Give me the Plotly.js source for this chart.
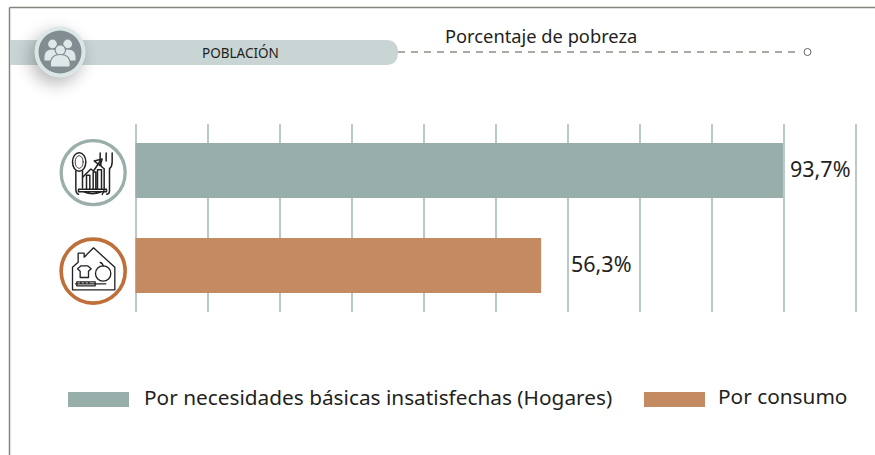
<!DOCTYPE html>
<html><head><meta charset="utf-8">
<script src="https://cdn.plot.ly/plotly-3.0.1.min.js"></script>
<style>html,body{margin:0;padding:0;background:#fff;overflow:hidden}#c{width:875px;height:455px}</style>
</head><body><div id="c"></div>
<script>
const seriesNames = ['Por necesidades básicas insatisfechas (Hogares)', 'Por consumo'];
const categories = ['Por necesidades básicas insatisfechas', 'Por consumo'];
const povertyValues = [93.7, 56.3];
const valueLabels = ['93,7%', '56,3%'];
const barColors = ['#98aeaa', '#c48b63'];
const headerLabel = 'POBLACIÓN';
const chartTitle = 'Porcentaje de pobreza';
const FONT = '"Noto Sans", "Open Sans", sans-serif';
const W = 875, H = 455;
const px = v => v / W, py = v => 1 - v / H;
const svgUri = s => 'data:image/svg+xml;charset=utf-8,' + encodeURIComponent(s);

const populationBadge = `<svg xmlns="http://www.w3.org/2000/svg" width="120" height="120" viewBox="0 0 120 120">
<defs><filter id="b" x="-60%" y="-60%" width="220%" height="220%"><feGaussianBlur stdDeviation="9"/></filter></defs>
<circle cx="56" cy="66" r="25" fill="#000" opacity=".3" filter="url(#b)"/>
<circle cx="60" cy="60" r="25.5" fill="#dbe7e6"/><circle cx="60" cy="60" r="21.5" fill="#828d92"/>
<g fill="#dfe8e8" stroke="#828d92" stroke-width="1.2">
<circle cx="52.5" cy="52" r="5"/><circle cx="67.7" cy="52" r="5"/>
<path d="M44 69c-1-8 2-12 8-12s9 4 9 12z"/><path d="M59 69c0-8 3-12 9-12s9 4 8 12z"/>
<circle cx="60.3" cy="58" r="5.2"/><path d="M50.5 75c-1-9 3-12.500 9.800-12.500s10.800 3.500 9.700 12.500z"/></g></svg>`;

const foodIcon = `<svg xmlns="http://www.w3.org/2000/svg" width="70" height="70" viewBox="50 50 210 210">
<circle cx="157" cy="157" r="96" fill="#fff" stroke="#9aafab" stroke-width="10"/>
<g fill="none" stroke="#222" stroke-width="4.500" stroke-linejoin="round" stroke-linecap="round">
<ellipse cx="115" cy="125" rx="20" ry="28"/><ellipse cx="115" cy="125" rx="12" ry="19" stroke-width="2.500"/>
<path d="M105 152V205q0 14 8 17M125 152V203"/>
<path d="M178 98V125q0 14 12 20V205q0 12-6 17M196 98V122M214 98V125q0 14-8 20V212q0 8-8 10"/>
<path d="M137 205V165H147V205M157 205V155H165V205M170 205V148H182V205"/>
<path d="M113 207H197V214H113ZM130 215q25 10 50 0"/>
<path d="M126 170L150 146L158 152L178 122"/><path d="M160 122L184 116L178 136Z"/></g></svg>`;

const homeIcon = `<svg xmlns="http://www.w3.org/2000/svg" width="70" height="70" viewBox="50 345 210 210">
<circle cx="157" cy="452" r="96" fill="#fff" stroke="#bf6f3a" stroke-width="11"/>
<g fill="none" stroke="#222" stroke-width="4" stroke-linejoin="round" stroke-linecap="round">
<path d="M95 508V440L112 425V398H130V410L158 382L222 440V508Z"/>
<path d="M110 445L121 436H140L151 445L143 452V471H118V452Z"/>
<circle cx="187" cy="459" r="23"/><path d="M178 426Q186 428 187 437"/>
<path d="M104 490H195M108 484H163V496H108ZM120 484V490M132 484V490M144 484V490"/></g></svg>`;

const traces = [
  {type:'bar', orientation:'h', name:seriesNames[0], x:[povertyValues[0]], y:[categories[0]], xaxis:'x2', yaxis:'y',
   width:0.579, marker:{color:barColors[0]}, hoverinfo:'skip', showlegend:false},
  {type:'bar', orientation:'h', name:seriesNames[1], x:[povertyValues[1]], y:[categories[1]], xaxis:'x', yaxis:'y',
   width:0.579, marker:{color:barColors[1]}, hoverinfo:'skip', showlegend:false}
];
const textAnn = (text, x, y, size, anchor, extra) => Object.assign({text, x:px(x), y:py(y), xref:'paper', yref:'paper',
  xanchor:anchor, yanchor:'middle', showarrow:false, font:{family:FONT, size, color:'#231f20'}}, extra||{});
const rect = (x0,y0,x1,y1,color) => ({type:'rect', xref:'paper', yref:'paper', x0:px(x0), x1:px(x1), y0:py(y0), y1:py(y1), fillcolor:color, line:{width:0}, layer:'below'});
const line = (x0,y0,x1,y1,color,width,dash) => ({type:'line', xref:'paper', yref:'paper', x0:px(x0), x1:px(x1), y0:py(y0), y1:py(y1), line:{color,width,dash:dash||'solid'}, layer:'below'});

const pillPath = ['M',px(10),py(40),'H',px(386),'Q',px(398),py(40),px(398),py(52.5),'Q',px(398),py(65),px(386),py(65),'H',px(10),'Z'].join(' ');

const layout = {
  width:W, height:H, margin:{l:0,r:0,t:0,b:0}, paper_bgcolor:'#fff', plot_bgcolor:'rgba(0,0,0,0)', showlegend:false,
  xaxis:{domain:[px(128.3),px(863.2)], range:[-1,101], dtick:10, tick0:0, showgrid:true, gridcolor:'#b9c9c7', gridwidth:2,
    zeroline:false, showticklabels:false, ticks:'', showline:false, anchor:'y', fixedrange:true},
  xaxis2:{domain:[px(128.3),px(863.2)], range:[-1.042,105.31], overlaying:'x', visible:false, anchor:'y', fixedrange:true},
  yaxis:{domain:[py(312),py(124)], type:'category', categoryorder:'array', categoryarray:categories, range:[1.49,-0.49],
    showgrid:false, zeroline:false, showticklabels:false, ticks:'', showline:false, fixedrange:true},
  shapes:[
    line(9.5,7.500,875,7.500,'#85857b',1.5), line(9.500,7.500,9.500,455,'#85857b',1.5),
    {type:'path', xref:'paper', yref:'paper', path:pillPath, fillcolor:'#c9d5d5', line:{width:0}, layer:'below'},
    line(398,52,800,52,'#8f8f87',1.5,'7px,6px'),
    {type:'circle', xref:'paper', yref:'paper', x0:px(804),x1:px(811),y0:py(48.500),y1:py(55.500), fillcolor:'#fff', line:{color:'#666',width:1}},
    rect(68,392,129,407,barColors[0]), rect(644,392,705,407,barColors[1])
  ],
  annotations:[
    textAnn(headerLabel,240,53,13.500,'center'),
    textAnn(chartTitle,541,36,18.300,'center'),
    {text:valueLabels[0], x:povertyValues[0], y:categories[0], xref:'x2', yref:'y', xanchor:'left', yanchor:'middle', xshift:5, yshift:2, showarrow:false, font:{family:FONT,size:21.5,color:'#231f20'}},
    {text:valueLabels[1], x:povertyValues[1], y:categories[1], xref:'x', yref:'y', xanchor:'left', yanchor:'middle', xshift:28, yshift:2, showarrow:false, font:{family:FONT,size:21.5,color:'#231f20'}},
    textAnn(seriesNames[0],142,397,20.800,'left'),
    textAnn(seriesNames[1],716,396,20.800,'left')
  ],
  images:[
    {source:svgUri(populationBadge), xref:'paper', yref:'paper', x:px(0), y:py(-8), sizex:120/W, sizey:120/H, xanchor:'left', yanchor:'top', sizing:'stretch', layer:'above'},
    {source:svgUri(foodIcon), xref:'paper', yref:'paper', x:px(57.500), y:py(137), sizex:70/W, sizey:70/H, xanchor:'left', yanchor:'top', sizing:'stretch', layer:'above'},
    {source:svgUri(homeIcon), xref:'paper', yref:'paper', x:px(57.500), y:py(235.500), sizex:70/W, sizey:70/H, xanchor:'left', yanchor:'top', sizing:'stretch', layer:'above'}
  ]
};
Plotly.newPlot('c', traces, layout, {displayModeBar:false, staticPlot:true});
</script></body></html>
